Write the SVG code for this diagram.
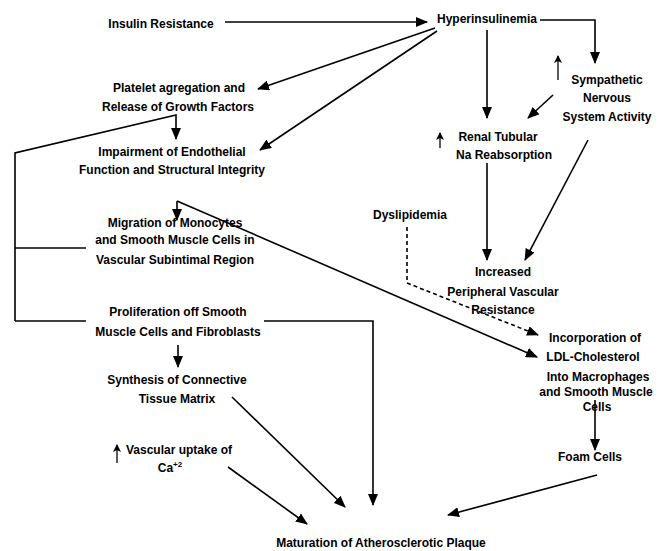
<svg xmlns="http://www.w3.org/2000/svg" width="659" height="551" viewBox="0 0 659 551">
<style>
  text { font-family: "Liberation Sans", Arial, "DejaVu Sans", sans-serif; font-size: 12px; font-weight: bold; fill: #000; text-anchor: middle; }
  .ln { fill: none; stroke: #000; stroke-width: 1.6; }
  .thin { fill: none; stroke: #000; stroke-width: 1.3; }
  .dash { fill: none; stroke: #000; stroke-width: 1.6; stroke-dasharray: 4 3; }
</style>
<defs>
  <marker id="ah" markerUnits="userSpaceOnUse" markerWidth="12" markerHeight="10" viewBox="0 0 12 10" refX="11" refY="5" orient="auto">
    <path d="M0,0 L12,5 L0,10 Z" fill="#000"/>
  </marker>
  <marker id="up" markerUnits="userSpaceOnUse" markerWidth="8" markerHeight="8" viewBox="0 0 8 8" refX="7" refY="4" orient="auto">
    <path d="M0,0 L8,4 L0,8 L2,4 Z" fill="#000"/>
  </marker>
</defs>
<rect width="659" height="551" fill="#fff"/>

<g id="connectors">
  <line class="ln" x1="225" y1="22" x2="427" y2="22" marker-end="url(#ah)"/>
  <path class="ln" d="M540,20 H595 V63" marker-end="url(#ah)"/>
  <line class="ln" x1="487" y1="30" x2="487" y2="118" marker-end="url(#ah)"/>
  <line class="ln" x1="435" y1="28" x2="258" y2="89" marker-end="url(#ah)"/>
  <line class="ln" x1="437" y1="31" x2="260" y2="150" marker-end="url(#ah)"/>
  <line class="ln" x1="553" y1="95" x2="528" y2="118" marker-end="url(#ah)"/>
  <line class="ln" x1="487" y1="163" x2="487" y2="260" marker-end="url(#ah)"/>
  <line class="ln" x1="588" y1="140" x2="525" y2="260" marker-end="url(#ah)"/>
  <path class="ln" d="M15,321 V153 L176,115 V139" marker-end="url(#ah)"/>
  <line class="ln" x1="15" y1="248" x2="86" y2="248"/>
  <line class="ln" x1="15" y1="321" x2="86" y2="321"/>
  <path class="ln" d="M264,321 H373 V505" marker-end="url(#ah)"/>
  <line class="ln" x1="177" y1="201" x2="177" y2="220" marker-end="url(#ah)"/>
  <line class="ln" x1="177" y1="201" x2="537" y2="357" marker-end="url(#ah)"/>
  <line class="ln" x1="178" y1="345" x2="178" y2="367" marker-end="url(#ah)"/>
  <line class="ln" x1="232" y1="397" x2="345" y2="507" marker-end="url(#ah)"/>
  <line class="ln" x1="228" y1="467" x2="307" y2="524" marker-end="url(#ah)"/>
  <line class="ln" x1="597" y1="475" x2="448" y2="515" marker-end="url(#ah)"/>
  <line class="ln" x1="595" y1="400" x2="595" y2="450" marker-end="url(#ah)"/>
  <path class="dash" d="M407,227 V283 L538,335" marker-end="url(#ah)"/>
</g>

<g id="insulin-resistance"><text x="161" y="28">Insulin Resistance</text></g>
<g id="hyperinsulinemia"><text x="487" y="23">Hyperinsulinemia</text></g>
<g id="platelet">
  <text x="179" y="92">Platelet agregation and</text>
  <text x="178" y="111">Release of Growth Factors</text>
</g>
<g id="impairment">
  <text x="172" y="156">Impairment of Endothelial</text>
  <text x="172" y="174">Function and Structural Integrity</text>
</g>
<g id="migration">
  <text x="175" y="227">Migration of Monocytes</text>
  <text x="175" y="244">and Smooth Muscle Cells in</text>
  <text x="175" y="264">Vascular Subintimal Region</text>
</g>
<g id="proliferation">
  <text x="178" y="316">Proliferation off Smooth</text>
  <text x="178" y="336">Muscle Cells and Fibroblasts</text>
</g>
<g id="synthesis">
  <text x="177" y="384">Synthesis of Connective</text>
  <text x="177" y="403">Tissue Matrix</text>
</g>
<g id="calcium">
  <line class="thin" x1="117" y1="463" x2="117" y2="445" marker-end="url(#up)"/>
  <text x="179" y="454">Vascular uptake of</text>
  <text x="170" y="472">Ca<tspan dy="-5" font-size="8">+2</tspan></text>
</g>
<g id="maturation"><text x="381" y="547">Maturation of Atherosclerotic Plaque</text></g>
<g id="sympathetic">
  <line class="thin" x1="558" y1="80" x2="558" y2="56" marker-end="url(#up)"/>
  <text x="607" y="84">Sympathetic</text>
  <text x="607" y="102">Nervous</text>
  <text x="607" y="121">System Activity</text>
</g>
<g id="renal">
  <line class="thin" x1="440" y1="148" x2="440" y2="133" marker-end="url(#up)"/>
  <text x="498" y="141">Renal Tubular</text>
  <text x="504" y="159">Na Reabsorption</text>
</g>
<g id="dyslipidemia"><text x="410" y="219">Dyslipidemia</text></g>
<g id="pvr">
  <text x="503" y="276">Increased</text>
  <text x="503" y="296">Peripheral Vascular</text>
  <text x="503" y="314">Resistance</text>
</g>
<g id="ldl">
  <text x="595" y="342">Incorporation of</text>
  <text x="593" y="361">LDL-Cholesterol</text>
  <text x="598" y="381">Into Macrophages</text>
  <text x="596" y="396">and Smooth Muscle</text>
  <text x="597" y="411">Cells</text>
</g>
<g id="foam"><text x="590" y="461">Foam Cells</text></g>
</svg>
